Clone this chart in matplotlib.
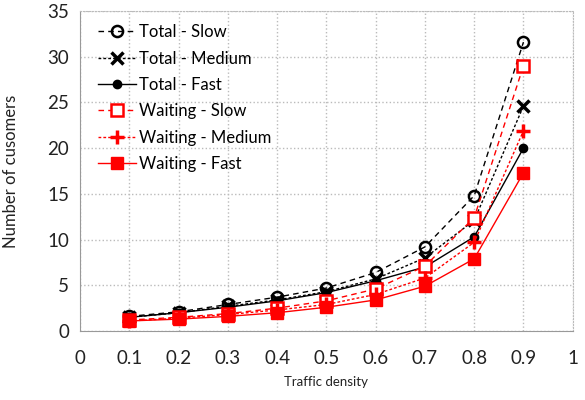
import numpy as np
import matplotlib.pyplot as plt

density = [0.1, 0.2, 0.3, 0.4, 0.5, 0.6, 0.7, 0.8, 0.9]
total_slow = [1.6, 2.1, 2.9, 3.7, 4.7, 6.4, 9.2, 14.8, 31.6]
total_medium = [1.5, 2.0, 2.7, 3.4, 4.3, 5.7, 8.0, 12.1, 24.6]
total_fast = [1.5, 2.0, 2.6, 3.3, 4.2, 5.5, 7.0, 10.3, 20.0]
waiting_slow = [1.2, 1.5, 1.9, 2.5, 3.3, 4.6, 7.1, 12.4, 29.0]
waiting_medium = [1.1, 1.4, 1.8, 2.3, 2.9, 4.0, 5.8, 9.7, 21.9]
waiting_fast = [1.1, 1.3, 1.6, 2.0, 2.6, 3.4, 4.9, 7.9, 17.3]

plt.rcParams['font.family'] = ['Lato', 'DejaVu Sans']

fig = plt.figure(figsize=(5.85, 4.0), dpi=100)
ax = fig.add_axes([0.137, 0.1725, 0.842, 0.8])

ax.plot(density, total_slow, color='black', ls=(0, (4, 3)), lw=1,
        marker='o', ms=8, mfc='none', mew=1.8, label='Total - Slow')
ax.plot(density, total_medium, color='black', ls=(0, (2, 1.5)), lw=1,
        marker='x', ms=9, mew=2.5, label='Total - Medium')
ax.plot(density, total_fast, color='black', ls='-', lw=1,
        marker='o', ms=6, label='Total - Fast')
ax.plot(density, waiting_slow, color='red', ls=(0, (4, 3)), lw=1,
        marker='s', ms=8, mfc='white', mew=1.8, label='Waiting - Slow')
ax.plot(density, waiting_medium, color='red', ls=(0, (2, 1.5)), lw=1,
        marker='+', ms=10, mew=2.5, label='Waiting - Medium')
ax.plot(density, waiting_fast, color='red', ls='-', lw=1,
        marker='s', ms=8, label='Waiting - Fast')

ax.set_xlim(0, 1)
ax.set_ylim(0, 35)
ax.set_xticks(np.arange(0, 1.01, 0.1))
ax.set_xticklabels(['0', '0.1', '0.2', '0.3', '0.4', '0.5', '0.6', '0.7', '0.8', '0.9', '1'])
ax.set_yticks(range(0, 36, 5))
ax.tick_params(length=0, labelsize=13.5, colors='#222222')
ax.tick_params(axis='x', pad=14)
ax.tick_params(axis='y', pad=8)

ax.grid(True, color='#bbbbbb', ls=':', lw=1)
for s in ['left', 'bottom']:
    ax.spines[s].set_color('#999999')
for s in ['top', 'right']:
    ax.spines[s].set_color('#bbbbbb')
    ax.spines[s].set_linestyle(':')

ax.set_xlabel('Traffic density', fontsize=9.5, color='#222222', labelpad=6)
ax.set_ylabel('Number of cusomers', fontsize=12, color='#222222', labelpad=20)

ax.legend(loc='upper left', frameon=False, fontsize=12, handlelength=2.3,
          borderaxespad=0.2, labelspacing=0.62, handletextpad=0.2,
          bbox_to_anchor=(0.015, 0.99))

fig.savefig('out.png', dpi=100)
